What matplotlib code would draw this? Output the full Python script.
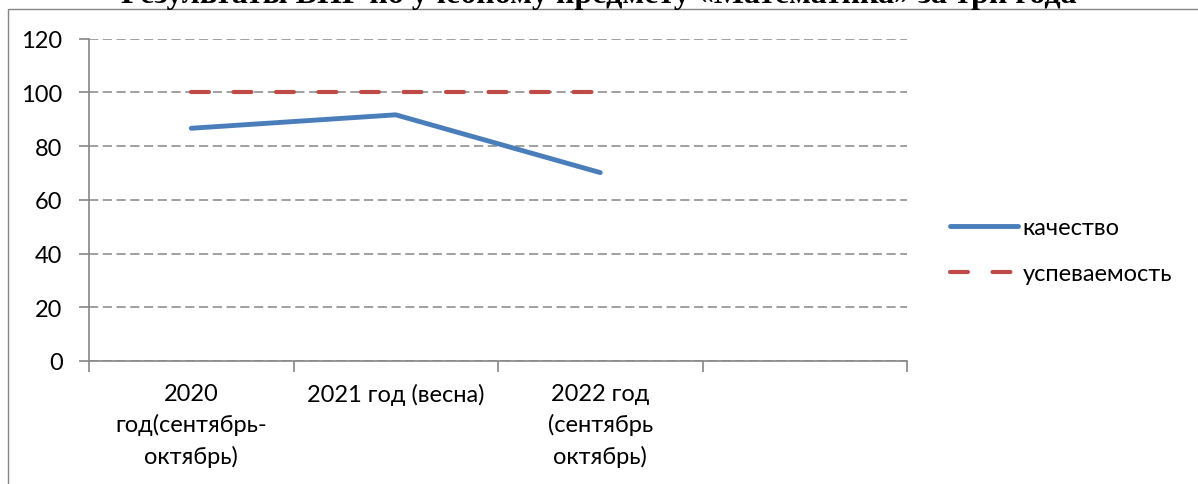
import matplotlib
matplotlib.use("Agg")
import matplotlib.pyplot as plt
from matplotlib.patches import Rectangle
import numpy as np

# данные
periods = ["2020\nгод(сентябрь-\nоктябрь)", "2021 год (весна)", "2022 год\n(сентябрь\nоктябрь)", ""]
kachestvo = [86.6, 91.6, 70.1]
uspevaemost = [100, 100, 100]
yticks = [0, 20, 40, 60, 80, 100, 120]
title = "Результаты ВПР по учебному предмету «Математика» за три года"

plt.rcParams['font.family'] = ['Lato', 'DejaVu Sans']
grey = '#868686'
fs = 17

fig = plt.figure(figsize=(11.98, 4.85), dpi=100)

# рамка диаграммы
fig.patches.append(Rectangle((8 / 1198, -0.2), 2.0, 1 - 10 / 485 + 0.2,
                             transform=fig.transFigure, fill=False,
                             edgecolor=grey, lw=1.0))
fig.text(0.5, 1 - 3 / 485, title, ha='center', va='baseline',
         fontsize=23, fontweight='bold', family='Liberation Serif')

ax = fig.add_axes([89 / 1198, 1 - 362 / 485, (907 - 89) / 1198, (362 - 39.5) / 485])

x = np.arange(len(kachestvo)) + 0.5
ax.plot(x, kachestvo, color='#4a7ebb', lw=3.5, solid_capstyle='round',
        solid_joinstyle='round', label='качество')
ax.plot(x, uspevaemost, color='#be4b48', lw=3.0, dashes=(4.3, 5.9),
        dash_capstyle='round', label='успеваемость')

ax.set_xlim(0, len(periods))
ax.set_ylim(0, 120)
ax.set_yticks(yticks)
ax.yaxis.grid(True, color=grey, lw=1.1, dashes=(6, 3))
ax.set_axisbelow(True)

ax.set_xticks(np.arange(len(periods) + 1))
ax.set_xticklabels([])
ax.set_xticks(np.arange(len(periods)) + 0.5, minor=True)
ax.set_xticklabels(periods, minor=True, fontsize=fs, linespacing=1.5)
ax.tick_params(axis='x', which='minor', length=0, pad=16)
ax.tick_params(axis='x', which='major', length=8, color=grey, width=1.2)
ax.tick_params(axis='y', length=7, color=grey, width=1.2, labelsize=fs, pad=12)

for s in ['top', 'right']:
    ax.spines[s].set_visible(False)
for s in ['left', 'bottom']:
    ax.spines[s].set_color(grey)
    ax.spines[s].set_linewidth(1.2)

ax.legend(loc='center left', bbox_to_anchor=(1.041, 0.343), frameon=False,
          fontsize=fs, handlelength=2.9, handletextpad=0.17, labelspacing=1.05,
          borderaxespad=0)

fig.savefig('out.png', dpi=100)
